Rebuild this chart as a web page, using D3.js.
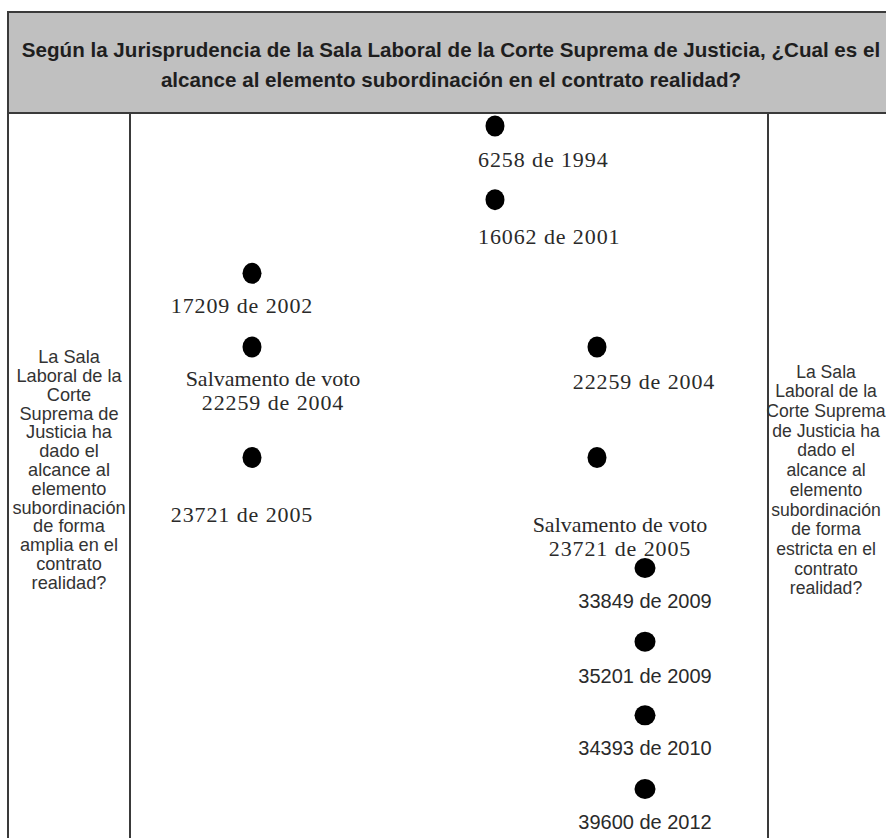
<!DOCTYPE html>
<html>
<head>
<meta charset="utf-8">
<script src="https://cdn.jsdelivr.net/npm/d3@7"></script>
<style>
  html, body { margin: 0; padding: 0; background: #ffffff; }
  svg { display: block; }
</style>
</head>
<body>
<svg id="chart" width="886" height="838"></svg>
<script>
// ---------------- DATA ----------------
const titleLines = [
  "Según la Jurisprudencia de la Sala Laboral de la Corte Suprema de Justicia, ¿Cual es el",
  "alcance al elemento subordinación en el contrato realidad?"
];
const leftNote = ["La Sala", "Laboral de la", "Corte", "Suprema de", "Justicia ha", "dado el",
  "alcance al", "elemento", "subordinación", "de forma", "amplia en el", "contrato", "realidad?"];
const rightNote = ["La Sala", "Laboral de la", "Corte Suprema", "de Justicia ha", "dado el",
  "alcance al", "elemento", "subordinación", "de forma", "estricta en el", "contrato", "realidad?"];

const sentencias = ["6258 de 1994", "16062 de 2001", "17209 de 2002", "22259 de 2004", "22259 de 2004",
  "23721 de 2005", "23721 de 2005", "33849 de 2009", "35201 de 2009", "34393 de 2010", "39600 de 2012"];
const tipos = ["", "", "", "Salvamento de voto", "", "", "Salvamento de voto", "", "", "", ""];
const columnas = ["centro", "centro", "amplia", "amplia", "estricta", "amplia", "estricta",
  "estricta2", "estricta2", "estricta2", "estricta2"];
const orden = [0, 1, 2, 3, 3, 4.5, 4.5, 6, 7, 8, 9];

// ---------------- LAYOUT ----------------
const W = 886, H = 838;
const svg = d3.select("#chart");
const frame = { left: 8, top: 12, headerBottom: 113, col1: 130, col2: 768, right: 898 };
const lineColor = "#3a3a3a";

const x = d3.scaleOrdinal()
  .domain(["amplia", "centro", "estricta", "estricta2"])
  .range([252, 495, 597, 645]);
const y = d3.scaleLinear().domain([0, 9]).range([126, 789]);

// label layout relative to dot: [dx, dy, anchor, serif]
const labelLayout = [
  [-17, 34, "start", true], [-17, 37, "start", true], [-10, 33, "middle", true],
  [21, 32, "middle", true], [47, 35, "middle", true], [-10, 57, "middle", true],
  [23, 67, "middle", true], [0, 33, "middle", false], [0, 34, "middle", false],
  [0, 33, "middle", false], [0, 33, "middle", false]
];

// header
svg.append("rect")
  .attr("x", frame.left).attr("y", frame.top)
  .attr("width", frame.right - frame.left).attr("height", frame.headerBottom - frame.top)
  .attr("fill", "#c0c0c0").attr("stroke", lineColor).attr("stroke-width", 2);

// vertical lines
[frame.left, frame.col1, frame.col2].forEach(xx => {
  svg.append("line")
    .attr("x1", xx).attr("x2", xx)
    .attr("y1", frame.headerBottom).attr("y2", H + 2)
    .attr("stroke", lineColor).attr("stroke-width", 2);
});

// title
svg.append("g").selectAll("text").data(titleLines).join("text")
  .attr("x", 451)
  .attr("y", (d, i) => 57 + i * 30)
  .attr("text-anchor", "middle")
  .attr("font-family", "'Liberation Sans', Arial, sans-serif")
  .attr("font-weight", "bold")
  .attr("font-size", 20.6)
  .attr("fill", "#1e1e1e")
  .text(d => d);

// side notes
function note(lines, cx, cy, lh, fs) {
  const g = svg.append("g");
  const n = lines.length;
  g.selectAll("text").data(lines).join("text")
    .attr("x", cx)
    .attr("y", (d, i) => cy + (i - (n - 1) / 2) * lh + 6)
    .attr("text-anchor", "middle")
    .attr("font-family", "'Liberation Sans', Arial, sans-serif")
    .attr("font-size", fs)
    .attr("fill", "#333")
    .text(d => d);
}
note(leftNote, 69, 470, 18.8, 18.2);
note(rightNote, 826, 480, 19.7, 17.6);

// points
const items = sentencias.map((s, i) => ({ s, tipo: tipos[i], col: columnas[i], o: orden[i], lay: labelLayout[i] }));

const g = svg.append("g");
g.selectAll("ellipse").data(items).join("ellipse")
  .attr("cx", d => x(d.col))
  .attr("cy", d => y(d.o))
  .attr("rx", d => d.lay[3] ? 9.5 : 10.5)
  .attr("ry", d => d.lay[3] ? 10.5 : 10)
  .attr("fill", "#000");

items.forEach(d => {
  const [dx, dy, anchor, serif] = d.lay;
  const lines = d.tipo ? [d.tipo, d.s] : [d.s];
  const t = g.append("text")
    .attr("text-anchor", anchor)
    .attr("font-family", serif ? "'Liberation Serif', 'Times New Roman', serif" : "'Liberation Sans', Arial, sans-serif")
    .attr("font-size", serif ? 22 : 20)
    .attr("fill", "#2a2a2a");
  lines.forEach((ln, k) => {
    const isNumber = ln === d.s;
    t.append("tspan")
      .attr("x", x(d.col) + dx)
      .attr("y", y(d.o) + dy + k * 24 + 7)
      .attr("letter-spacing", serif && isNumber ? 0.9 : 0)
      .text(ln);
  });
});
</script>
</body>
</html>
